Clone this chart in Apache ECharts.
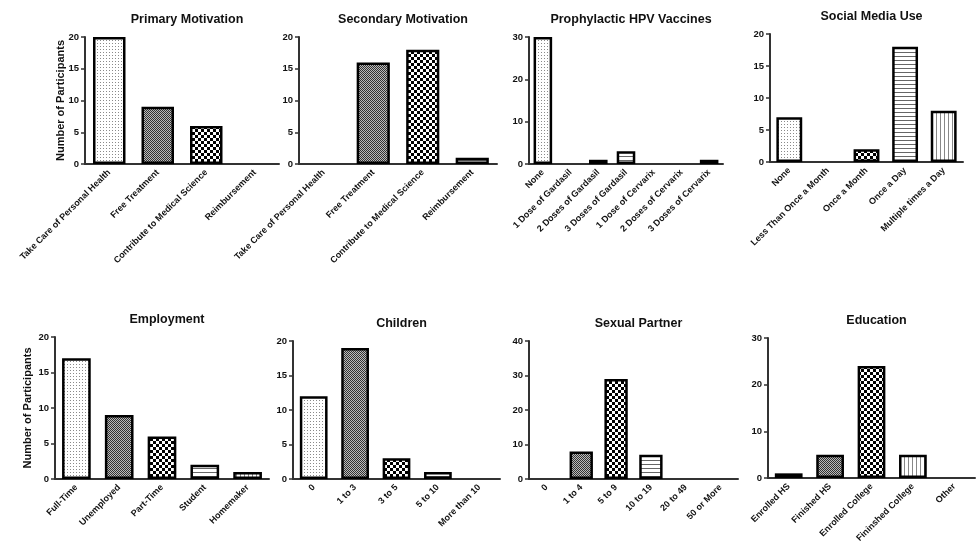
<!DOCTYPE html>
<html><head><meta charset="utf-8">
<script src="https://cdn.jsdelivr.net/npm/echarts@6/dist/echarts.min.js"></script>
<style>html,body{margin:0;padding:0;background:#fff}#c{width:976px;height:556px}</style>
</head><body><div id="c"></div>
<script>
// ---- data ----
var primaryCats = ['Take Care of Personal Health','Free Treatment','Contribute to Medical Science','Reimbursement'];
var primaryVals = [20, 9, 6, 0];
var secondaryCats = ['Take Care of Personal Health','Free Treatment','Contribute to Medical Science','Reimbursement'];
var secondaryVals = [0, 16, 18, 1];
var hpvCats = ['None','1 Dose of Gardasil','2 Doses of Gardasil','3 Doses of Gardasil','1 Dose of Cervarix','2 Doses of Cervarix','3 Doses of Cervarix'];
var hpvVals = [30, 0, 1, 3, 0, 0, 1];
var socialCats = ['None','Less Than Once a Month','Once a Month','Once a Day','Multiple times a Day'];
var socialVals = [7, 0, 2, 18, 8];
var employCats = ['Full-Time','Unemployed','Part-Time','Student','Homemaker'];
var employVals = [17, 9, 6, 2, 1];
var childCats = ['0','1 to 3','3 to 5','5 to 10','More than 10'];
var childVals = [12, 19, 3, 1, 0];
var sexCats = ['0','1 to 4','5 to 9','10 to 19','20 to 49','50 or More'];
var sexVals = [0, 8, 29, 7, 0, 0];
var eduCats = ['Enrolled HS','Finished HS','Enrolled College','Fininshed College','Other'];
var eduVals = [1, 5, 24, 5, 0];
var yMax = [20, 20, 30, 20, 20, 20, 40, 30];
var yStep = [5, 5, 10, 5, 5, 5, 10, 10];
var titles = ['Primary Motivation','Secondary Motivation','Prophylactic HPV Vaccines','Social Media Use','Employment','Children','Sexual Partner','Education'];

// ---- pattern fills ----
function mk(w, h, draw) {
  var c = document.createElement('canvas'); c.width = w; c.height = h;
  var g = c.getContext('2d'); g.fillStyle = '#fff'; g.fillRect(0, 0, w, h); draw(g);
  return { image: c, repeat: 'repeat' };
}
var P = {
  dots: mk(3, 3, function (g) { g.fillStyle = '#8a8a8a'; g.fillRect(1, 1, 1, 1); }),
  fine: mk(2, 2, function (g) { g.fillStyle = '#333'; g.fillRect(0, 0, 1, 1); g.fillRect(1, 1, 1, 1); g.fillStyle = '#bbb'; g.fillRect(1, 0, 1, 1); g.fillRect(0, 1, 1, 1); }),
  coarse: mk(6, 6, function (g) { g.fillStyle = '#000'; g.fillRect(0, 0, 3, 3); g.fillRect(3, 3, 3, 3); }),
  horiz: mk(1, 4, function (g) { g.fillStyle = '#666'; g.fillRect(0, 0, 1, 1); }),
  vert: mk(4, 1, function (g) { g.fillStyle = '#888'; g.fillRect(0, 0, 1, 1); }),
  diag: mk(4, 4, function (g) { g.fillStyle = '#444'; for (var i = 0; i < 4; i++) g.fillRect(i, 3 - i, 1, 1); }),
  wave: mk(4, 3, function (g) { g.fillStyle = '#444'; g.fillRect(0, 0, 1, 1); g.fillRect(1, 1, 2, 1); g.fillRect(3, 0, 1, 1); g.fillStyle = '#aaa'; g.fillRect(0, 2, 4, 1); })
};
var seq5 = ['dots', 'fine', 'coarse', 'horiz', 'vert', 'vert'];
var fills = [
  seq5, seq5,
  ['dots', 'fine', 'wave', 'horiz', 'vert', 'coarse', 'diag'],
  seq5,
  seq5,
  seq5,
  seq5,
  ['dots', 'fine', 'coarse', 'vert', 'horiz']
];

var cats = [primaryCats, secondaryCats, hpvCats, socialCats, employCats, childCats, sexCats, eduCats];
var vals = [primaryVals, secondaryVals, hpvVals, socialVals, employVals, childVals, sexVals, eduVals];
var grids = [
  { left: 85, top: 37, width: 194, height: 127 },
  { left: 299, top: 37, width: 198, height: 127 },
  { left: 529, top: 37, width: 194, height: 127 },
  { left: 770, top: 34, width: 193, height: 128 },
  { left: 55, top: 337, width: 214, height: 142 },
  { left: 293, top: 341, width: 207, height: 138 },
  { left: 529, top: 341, width: 209, height: 138 },
  { left: 768, top: 338, width: 207, height: 140 }
];
var FONT = 'Liberation Sans, Arial, sans-serif';
var axisCol = '#333';

var option = { animation: false, backgroundColor: '#fff', title: [], grid: [], xAxis: [], yAxis: [], series: [] };
for (var i = 0; i < 8; i++) {
  var gr = grids[i];
  option.grid.push({ left: gr.left, top: gr.top, width: gr.width, height: gr.height, containLabel: false });
  option.title.push({
    text: titles[i], left: gr.left + gr.width / 2, top: gr.top - 29, textAlign: 'center',
    textStyle: { fontFamily: FONT, fontWeight: 'bold', fontSize: 12.5, color: '#111' }
  });
  option.xAxis.push({
    type: 'category', gridIndex: i, data: cats[i],
    axisLine: { lineStyle: { color: axisCol, width: 2 } },
    axisTick: { alignWithLabel: true, length: 4, lineStyle: { color: axisCol, width: 1.5 } },
    axisLabel: { rotate: 45, interval: 0, margin: 7, fontFamily: FONT, fontWeight: 'bold', fontSize: 9, color: '#111' },
    splitLine: { show: false }
  });
  var ya = {
    type: 'value', gridIndex: i, min: 0, max: yMax[i], interval: yStep[i],
    axisLine: { show: true, lineStyle: { color: axisCol, width: 2 } },
    axisTick: { show: true, length: 4, lineStyle: { color: axisCol, width: 1.5 } },
    axisLabel: { margin: 6, fontFamily: FONT, fontWeight: 'bold', fontSize: 9.5, color: '#111' },
    splitLine: { show: false }
  };
  if (i === 0 || i === 4) {
    ya.name = 'Number of Participants';
    ya.nameLocation = 'middle';
    ya.nameMoveOverlap = false;
    ya.nameGap = i === 0 ? 19 : 22;
    ya.nameTextStyle = { fontFamily: FONT, fontWeight: 'bold', fontSize: 11, color: '#111' };
  }
  option.yAxis.push(ya);
  var f = fills[i];
  option.series.push({
    type: 'bar', xAxisIndex: i, yAxisIndex: i, barCategoryGap: '33%',
    data: vals[i].map(function (v, k) {
      return { value: v, itemStyle: { color: P[f[k]], borderColor: '#000', borderWidth: v === 0 ? 0 : 2.5 } };
    })
  });
}
var chart = echarts.init(document.getElementById('c'), null, { renderer: 'canvas' });
chart.setOption(option);
</script></body></html>
